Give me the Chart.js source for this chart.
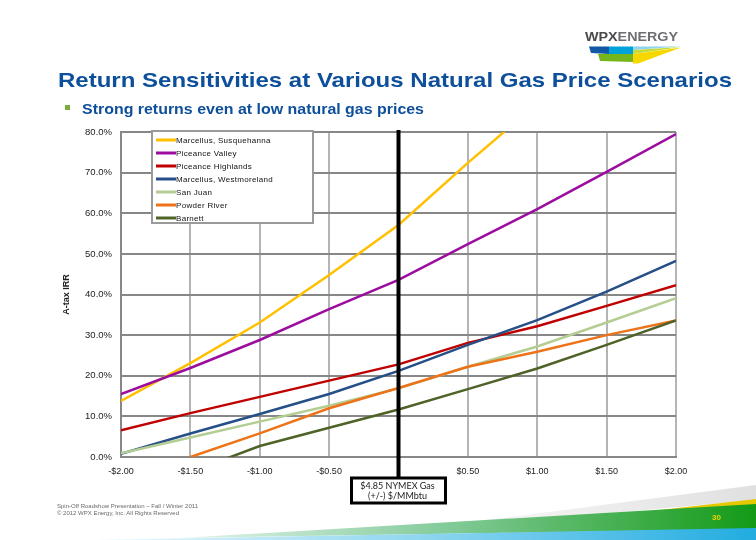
<!DOCTYPE html>
<html>
<head>
<meta charset="utf-8">
<script src="https://cdn.jsdelivr.net/npm/chart.js@4.4.1/dist/chart.umd.min.js"></script>
<style>
  body { margin: 0; background: #fff; }
  #page { position: relative; width: 756px; height: 540px; overflow: hidden; font-family: "Liberation Sans", Arial, sans-serif; }
  #deco { position: absolute; left: 0; top: 0; z-index: 0; }
  #irrChart { position: absolute; left: 0; top: 0; z-index: 1; }
  .txt { position: absolute; white-space: nowrap; line-height: 1; transform-origin: left top; z-index: 2; }
  #logoText { left: 585px; top: 30px; font-size: 13px; font-weight: bold; letter-spacing: 0; }
  #logoText .wpx { color: #4a4a4c; }
  #logoText .energy { color: #6d6e71; }
  #title { left: 58px; top: 69px; font-size: 21px; font-weight: bold; color: #0d4f9b; }
  #bullet { position: absolute; left: 65px; top: 105px; width: 5px; height: 5px; background: #7aab3c; z-index: 2; }
  #subtitle { left: 82px; top: 101px; font-size: 15px; font-weight: bold; color: #0d4f9b; }
  .foot { left: 57px; font-size: 6px; color: #6a6a6a; }
  #foot1 { top: 503px; }
  #foot2 { top: 510px; }
  #pageNum { left: 712px; top: 514px; font-size: 8px; font-weight: bold; color: #e8d400; }
</style>
</head>
<body>
<div id="page">
  <svg id="deco" width="756" height="540">
    <defs>
      <linearGradient id="grayGrad" x1="0" x2="1" y1="0" y2="0">
        <stop offset="0" stop-color="#ffffff"/>
        <stop offset="1" stop-color="#e0e0e0"/>
      </linearGradient>
      <linearGradient id="greenGrad" x1="0" x2="1" y1="0" y2="0">
        <stop offset="0" stop-color="#e4f4ec"/>
        <stop offset="0.45" stop-color="#86cc9c"/>
        <stop offset="1" stop-color="#139a16"/>
      </linearGradient>
      <linearGradient id="blueGrad" x1="0" x2="1" y1="0" y2="0">
        <stop offset="0" stop-color="#eef9fd"/>
        <stop offset="0.5" stop-color="#8ed6f0"/>
        <stop offset="1" stop-color="#22ace0"/>
      </linearGradient>
    </defs>
    <!-- logo marks -->
    <polygon points="589,46.5 609,46.5 609,54 591,53" fill="#1358a6"/>
    <polygon points="609,46.5 633,46.5 633,54 609,54" fill="#00a2dc"/>
    <polygon points="633,46.5 681,46.5 633,50" fill="#8fd4ef"/>
    <polygon points="633,50 681,47 633,54" fill="#c6da3a"/>
    <polygon points="598,54 633,54 633,62 600,61" fill="#77b51c"/>
    <polygon points="633,54 681,47.5 638,63.5 633,63.5" fill="#f6d800"/>
    <!-- footer swoosh -->
    <polygon points="380,534 756,485 756,500" fill="url(#grayGrad)"/>
    <polygon points="520,526 756,499 756,505" fill="#e4c900"/>
    <polygon points="180,538 756,504 756,529" fill="url(#greenGrad)"/>
    <polygon points="90,540 756,528 756,540" fill="url(#blueGrad)"/>
  </svg>

  <canvas id="irrChart" width="756" height="540"></canvas>

  <div class="txt" id="logoText"><span class="wpx">WPX</span><span class="energy">ENERGY</span></div>
  <div class="txt" id="title">Return Sensitivities at Various Natural Gas Price Scenarios</div>
  <div id="bullet"></div>
  <div class="txt" id="subtitle">Strong returns even at low natural gas prices</div>
  <div class="txt foot" id="foot1">Spin-Off Roadshow Presentation – Fall / Winter 2011</div>
  <div class="txt foot" id="foot2">© 2012 WPX Energy, Inc. All Rights Reserved</div>
  <div class="txt" id="pageNum">30</div>
</div>

<script>
// Gas price change vs $4.85 NYMEX ($/MMbtu)
const priceChange = [-2, -1.5, -1, -0.5, 0, 0.5, 1, 1.5, 2];

// After-tax IRR (%) per basin
const marcellusSusquehanna = [13.8, 23.1, 33.1, 44.8, 57.1, 72.4, 87.0, null, null];
const piceanceValley = [15.5, 21.9, 28.8, 36.4, 43.6, 52.4, 61.0, 70.2, 79.5];
const piceanceHighlands = [6.6, 10.8, 14.8, 18.8, 22.8, 28.1, 32.2, 37.2, 42.3];
const marcellusWestmoreland = [0.8, 5.8, 10.6, 15.5, 21.2, 27.6, 33.7, 40.7, 48.3];
const sanJuan = [0.9, 4.8, 8.7, 12.6, 16.9, 22.2, 27.2, 33.1, 39.1];
const powderRiver = [null, 0.0, 5.8, 12.0, 17.0, 22.2, 25.9, 30.0, 33.6];
const barnett = [null, -3.7, 2.7, 7.2, 11.7, 16.7, 21.8, 27.6, 33.6];

const seriesNames = ['Marcellus, Susquehanna', 'Piceance Valley', 'Piceance Highlands',
  'Marcellus, Westmoreland', 'San Juan', 'Powder River', 'Barnett'];
const seriesValues = [marcellusSusquehanna, piceanceValley, piceanceHighlands,
  marcellusWestmoreland, sanJuan, powderRiver, barnett];
const seriesColors = ['#ffc000', '#9b0c9f', '#c00000', '#254f86', '#b3cd93', '#ee7218', '#4f6228'];

const yTicks = [0, 10, 20, 30, 40, 50, 60, 70, 80];
const baseLabel = ['$4.85 NYMEX Gas', '(+/-) $/MMbtu'];

// Squeeze a text element to a given width
function fitText(id, width) {
  const el = document.getElementById(id);
  const w = el.getBoundingClientRect().width;
  el.style.transform = 'scaleX(' + (width / w) + ')';
}

fitText('logoText', 93);
fitText('title', 674);
fitText('subtitle', 342);
fitText('foot1', 141);
fitText('foot2', 122);

// Black base-price line and its label box
const basePricePlugin = {
  id: 'basePrice',
  afterDatasetsDraw(chart) {
    const ctx = chart.ctx;
    const x = chart.scales.x.getPixelForValue(0);
    const boxTop = 478, boxH = 25, boxW = 94;
    ctx.save();
    ctx.strokeStyle = '#000';
    ctx.lineWidth = 4;
    ctx.beginPath();
    ctx.moveTo(x, chart.chartArea.top - 2);
    ctx.lineTo(x, boxTop);
    ctx.stroke();

    ctx.fillStyle = '#fff';
    ctx.fillRect(x - boxW / 2, boxTop, boxW, boxH);
    ctx.lineWidth = 3;
    ctx.strokeRect(x - boxW / 2, boxTop, boxW, boxH);

    ctx.fillStyle = '#222';
    ctx.font = '9px Lato, "Open Sans", sans-serif';
    ctx.textAlign = 'center';
    ctx.textBaseline = 'middle';
    ctx.fillText(baseLabel[0], x - 1, boxTop + 8);
    ctx.fillText(baseLabel[1], x - 1, boxTop + 18);
    ctx.restore();
  }
};

// Legend box in the top-left of the plot
const boxLegendPlugin = {
  id: 'boxLegend',
  afterDraw(chart) {
    const ctx = chart.ctx;
    const left = 152, top = 131, w = 161, h = 92;
    ctx.save();
    ctx.fillStyle = '#fff';
    ctx.fillRect(left, top, w, h);
    ctx.strokeStyle = '#9a9a9a';
    ctx.lineWidth = 2;
    ctx.strokeRect(left, top, w, h);

    ctx.font = '8px "Liberation Sans", Arial, sans-serif';
    ctx.letterSpacing = '0.3px';
    ctx.textBaseline = 'middle';
    chart.data.datasets.forEach((ds, i) => {
      const y = top + 9 + i * 13;
      ctx.strokeStyle = ds.borderColor;
      ctx.lineWidth = 3;
      ctx.beginPath();
      ctx.moveTo(left + 4, y);
      ctx.lineTo(left + 24, y);
      ctx.stroke();
      ctx.fillStyle = '#111';
      ctx.fillText(ds.label, left + 24, y + 0.5);
    });
    ctx.restore();
  }
};

const datasets = seriesNames.map((name, i) => ({
  label: name,
  data: priceChange.map((p, j) => ({ x: p, y: seriesValues[i][j] })),
  borderColor: seriesColors[i],
  backgroundColor: seriesColors[i],
  borderWidth: 2.5,
  pointRadius: 0,
  tension: 0,
  spanGaps: false,
  order: seriesNames.length - i
}));

new Chart(document.getElementById('irrChart'), {
  type: 'line',
  data: { datasets: datasets },
  options: {
    responsive: false,
    animation: false,
    layout: { padding: { left: 61, right: 80, top: 132, bottom: 58 } },
    plugins: {
      legend: { display: false },
      tooltip: { enabled: false }
    },
    scales: {
      x: {
        type: 'linear',
        min: -2,
        max: 2,
        afterFit: s => { s.height = 25; },
        grid: { color: '#b4b4b4', lineWidth: 2, drawTicks: false },
        border: { color: '#878787', width: 2 },
        ticks: {
          stepSize: 0.5,
          autoSkip: false,
          maxRotation: 0,
          padding: 9,
          color: '#222',
          font: { family: '"Liberation Sans", Arial, sans-serif', size: 9 },
          callback: v => v === 0 ? '' : (v < 0 ? '-$' : '$') + Math.abs(v).toFixed(2)
        }
      },
      y: {
        min: yTicks[0],
        max: yTicks[yTicks.length - 1],
        afterFit: s => { s.width = 60; },
        grid: { color: '#878787', lineWidth: 2, drawTicks: false },
        border: { color: '#878787', width: 2 },
        title: {
          display: true,
          text: 'A-tax IRR',
          color: '#222',
          padding: 0,
          font: { family: '"Liberation Sans", Arial, sans-serif', size: 9, weight: 'bold' }
        },
        afterBuildTicks: s => { s.ticks = yTicks.map(v => ({ value: v })); },
        ticks: {
          padding: 9,
          color: '#222',
          font: { family: '"Liberation Sans", Arial, sans-serif', size: 9.5 },
          callback: v => v.toFixed(1) + '%'
        }
      }
    }
  },
  plugins: [basePricePlugin, boxLegendPlugin]
});
</script>
</body>
</html>
